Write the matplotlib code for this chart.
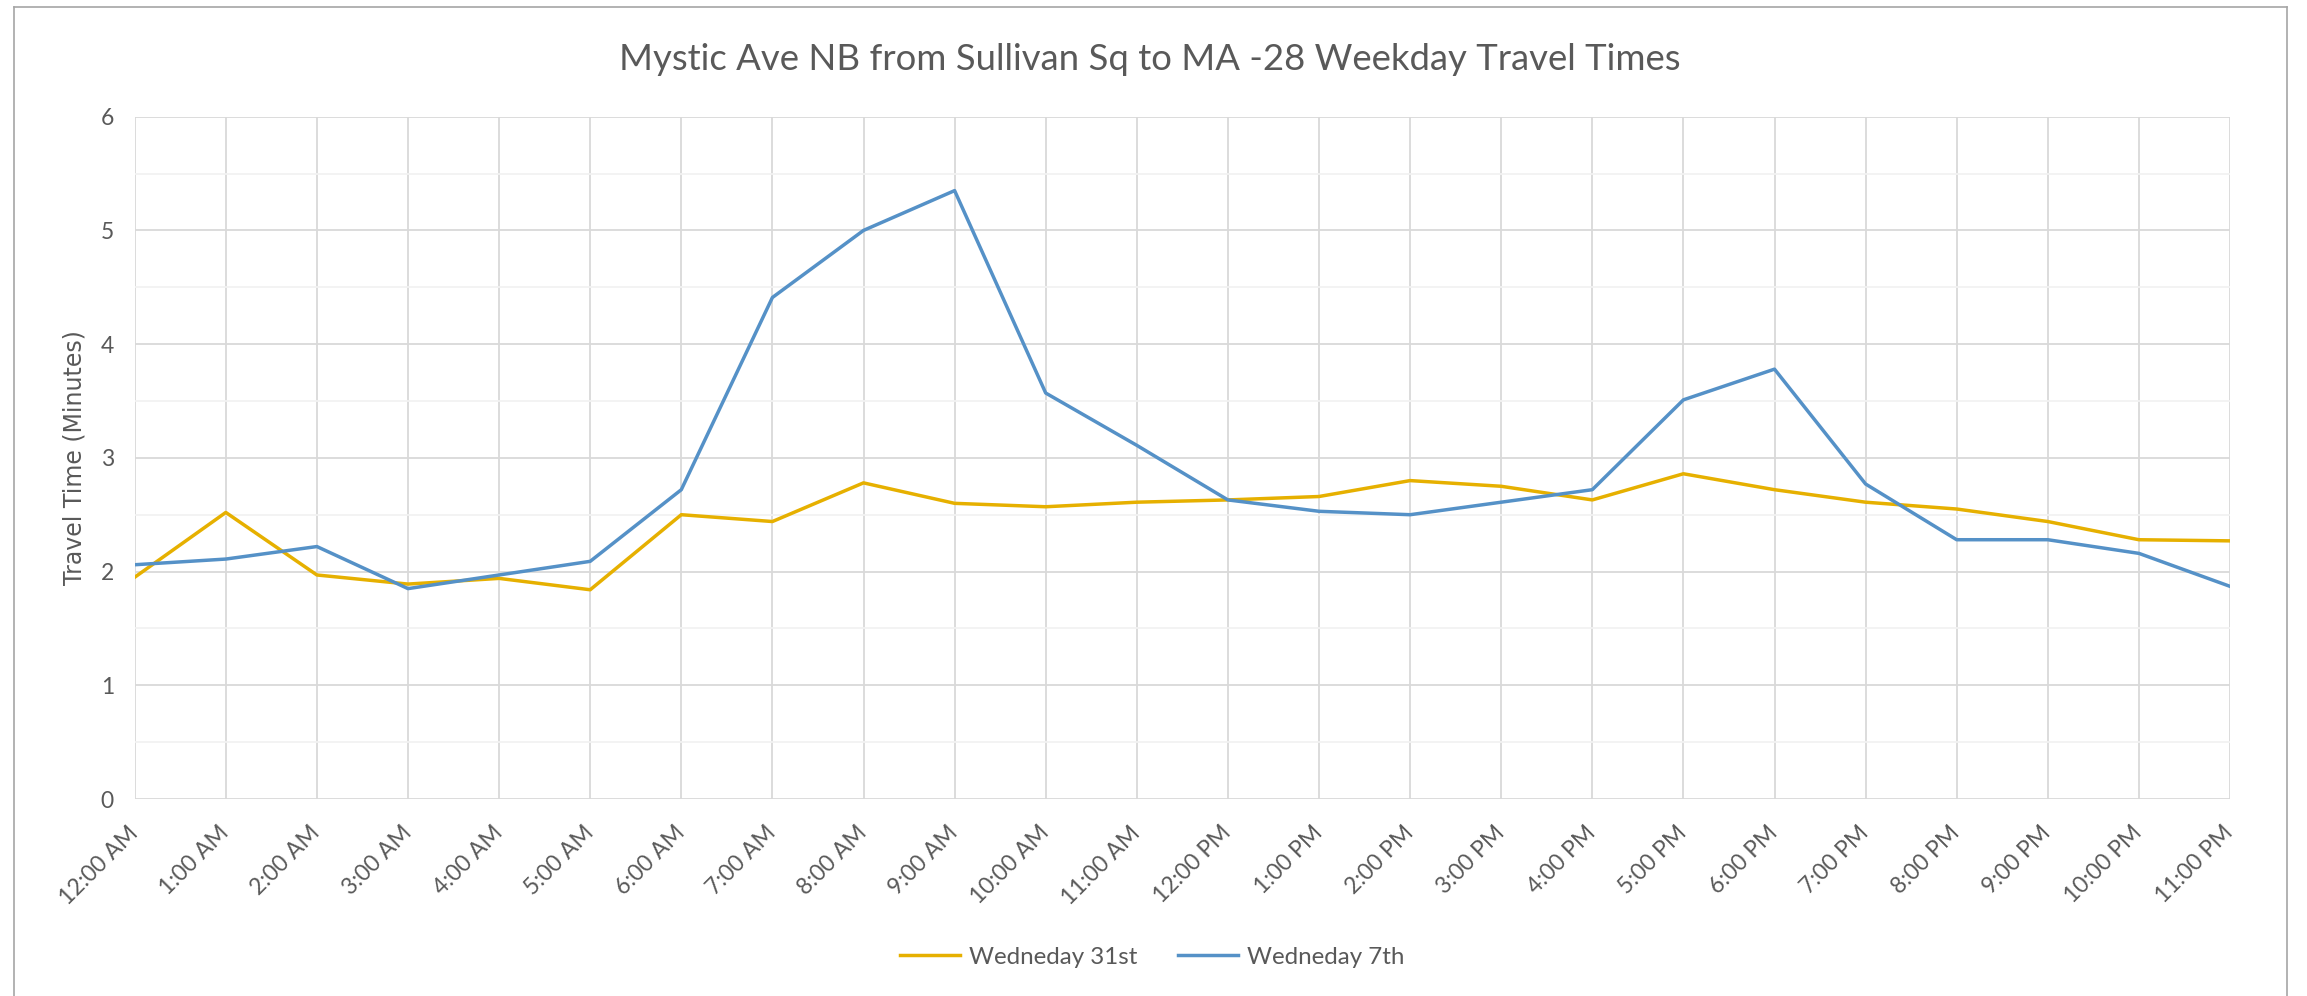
import matplotlib
matplotlib.use("Agg")
import matplotlib.pyplot as plt
from matplotlib.lines import Line2D
import numpy as np

plt.rcParams['font.family'] = ['Lato', 'DejaVu Sans']

hours = ["12:00 AM", "1:00 AM", "2:00 AM", "3:00 AM", "4:00 AM", "5:00 AM",
         "6:00 AM", "7:00 AM", "8:00 AM", "9:00 AM", "10:00 AM", "11:00 AM",
         "12:00 PM", "1:00 PM", "2:00 PM", "3:00 PM", "4:00 PM", "5:00 PM",
         "6:00 PM", "7:00 PM", "8:00 PM", "9:00 PM", "10:00 PM", "11:00 PM"]

wed_31st = [1.95, 2.52, 1.97, 1.89, 1.94, 1.84, 2.50, 2.44, 2.78, 2.60, 2.57, 2.61,
            2.63, 2.66, 2.80, 2.75, 2.63, 2.86, 2.72, 2.61, 2.55, 2.44, 2.28, 2.27]
wed_7th = [2.06, 2.11, 2.22, 1.85, 1.97, 2.09, 2.72, 4.41, 5.00, 5.35, 3.57, 3.11,
           2.63, 2.53, 2.50, 2.61, 2.72, 3.51, 3.78, 2.77, 2.28, 2.28, 2.16, 1.87]

series_names = ["Wedneday 31st", "Wedneday 7th"]
title = "Mystic Ave NB from Sullivan Sq to MA -28 Weekday Travel Times"
ylabel = "Travel Time (Minutes)"

W, H = 2307, 996
fig = plt.figure(figsize=(W / 100, H / 100), dpi=100)
ax = fig.add_axes([134.7 / W, 1 - 799 / H, (2230 - 134.7) / W, (799 - 116.7) / H])

text_color = "#595959"
x = np.arange(len(hours))
ax.plot(x, wed_31st, color="#E6B000", lw=2.5, solid_joinstyle="round", zorder=3, label=series_names[0])
ax.plot(x, wed_7th, color="#5591C7", lw=2.5, solid_joinstyle="round", zorder=4, label=series_names[1])

ax.set_xlim(0, len(hours) - 1)
ax.set_ylim(0, 6)
ax.set_yticks(np.arange(0, 7, 1))
ax.set_yticks(np.arange(0.5, 6, 1), minor=True)
ax.set_xticks(x)
ax.set_xticklabels(hours, rotation=45, ha="right", va="center", rotation_mode="anchor")
ax.grid(True, which="major", axis="both", color="#D9D9D9", lw=1.3, zorder=0)
ax.grid(True, which="minor", axis="y", color="#F2F2F2", lw=1.3, zorder=0)
ax.set_axisbelow(True)
for s in ax.spines.values():
    s.set_visible(False)
ax.tick_params(axis="both", which="both", length=0, colors=text_color, labelsize=16.5)
ax.tick_params(axis="y", pad=15)
ax.tick_params(axis="x", pad=22)
ax.set_ylabel(ylabel, fontsize=17, color=text_color, labelpad=10, family=["DejaVu Sans"])

fig.text(0.4985, 1 - 59 / H, title, ha="center", va="center", fontsize=26.3, color=text_color)

leg = fig.legend(loc="center", bbox_to_anchor=(1152 / W, 1 - 957 / H), ncol=2, frameon=False,
                 fontsize=17.4, handlelength=2.5, handletextpad=0.35, columnspacing=1.7)
for t in leg.get_texts():
    t.set_color(text_color)

# outer chart border
bc = "#A6A6A6"
fig.add_artist(Line2D([14 / W, 14 / W], [0, 1 - 7 / H], color=bc, lw=1.2, transform=fig.transFigure))
fig.add_artist(Line2D([14 / W, 2287 / W], [1 - 7 / H, 1 - 7 / H], color=bc, lw=1.2, transform=fig.transFigure))
fig.add_artist(Line2D([2287 / W, 2287 / W], [0, 1 - 7 / H], color=bc, lw=1.2, transform=fig.transFigure))

fig.savefig("out.png", dpi=100, facecolor="white")
